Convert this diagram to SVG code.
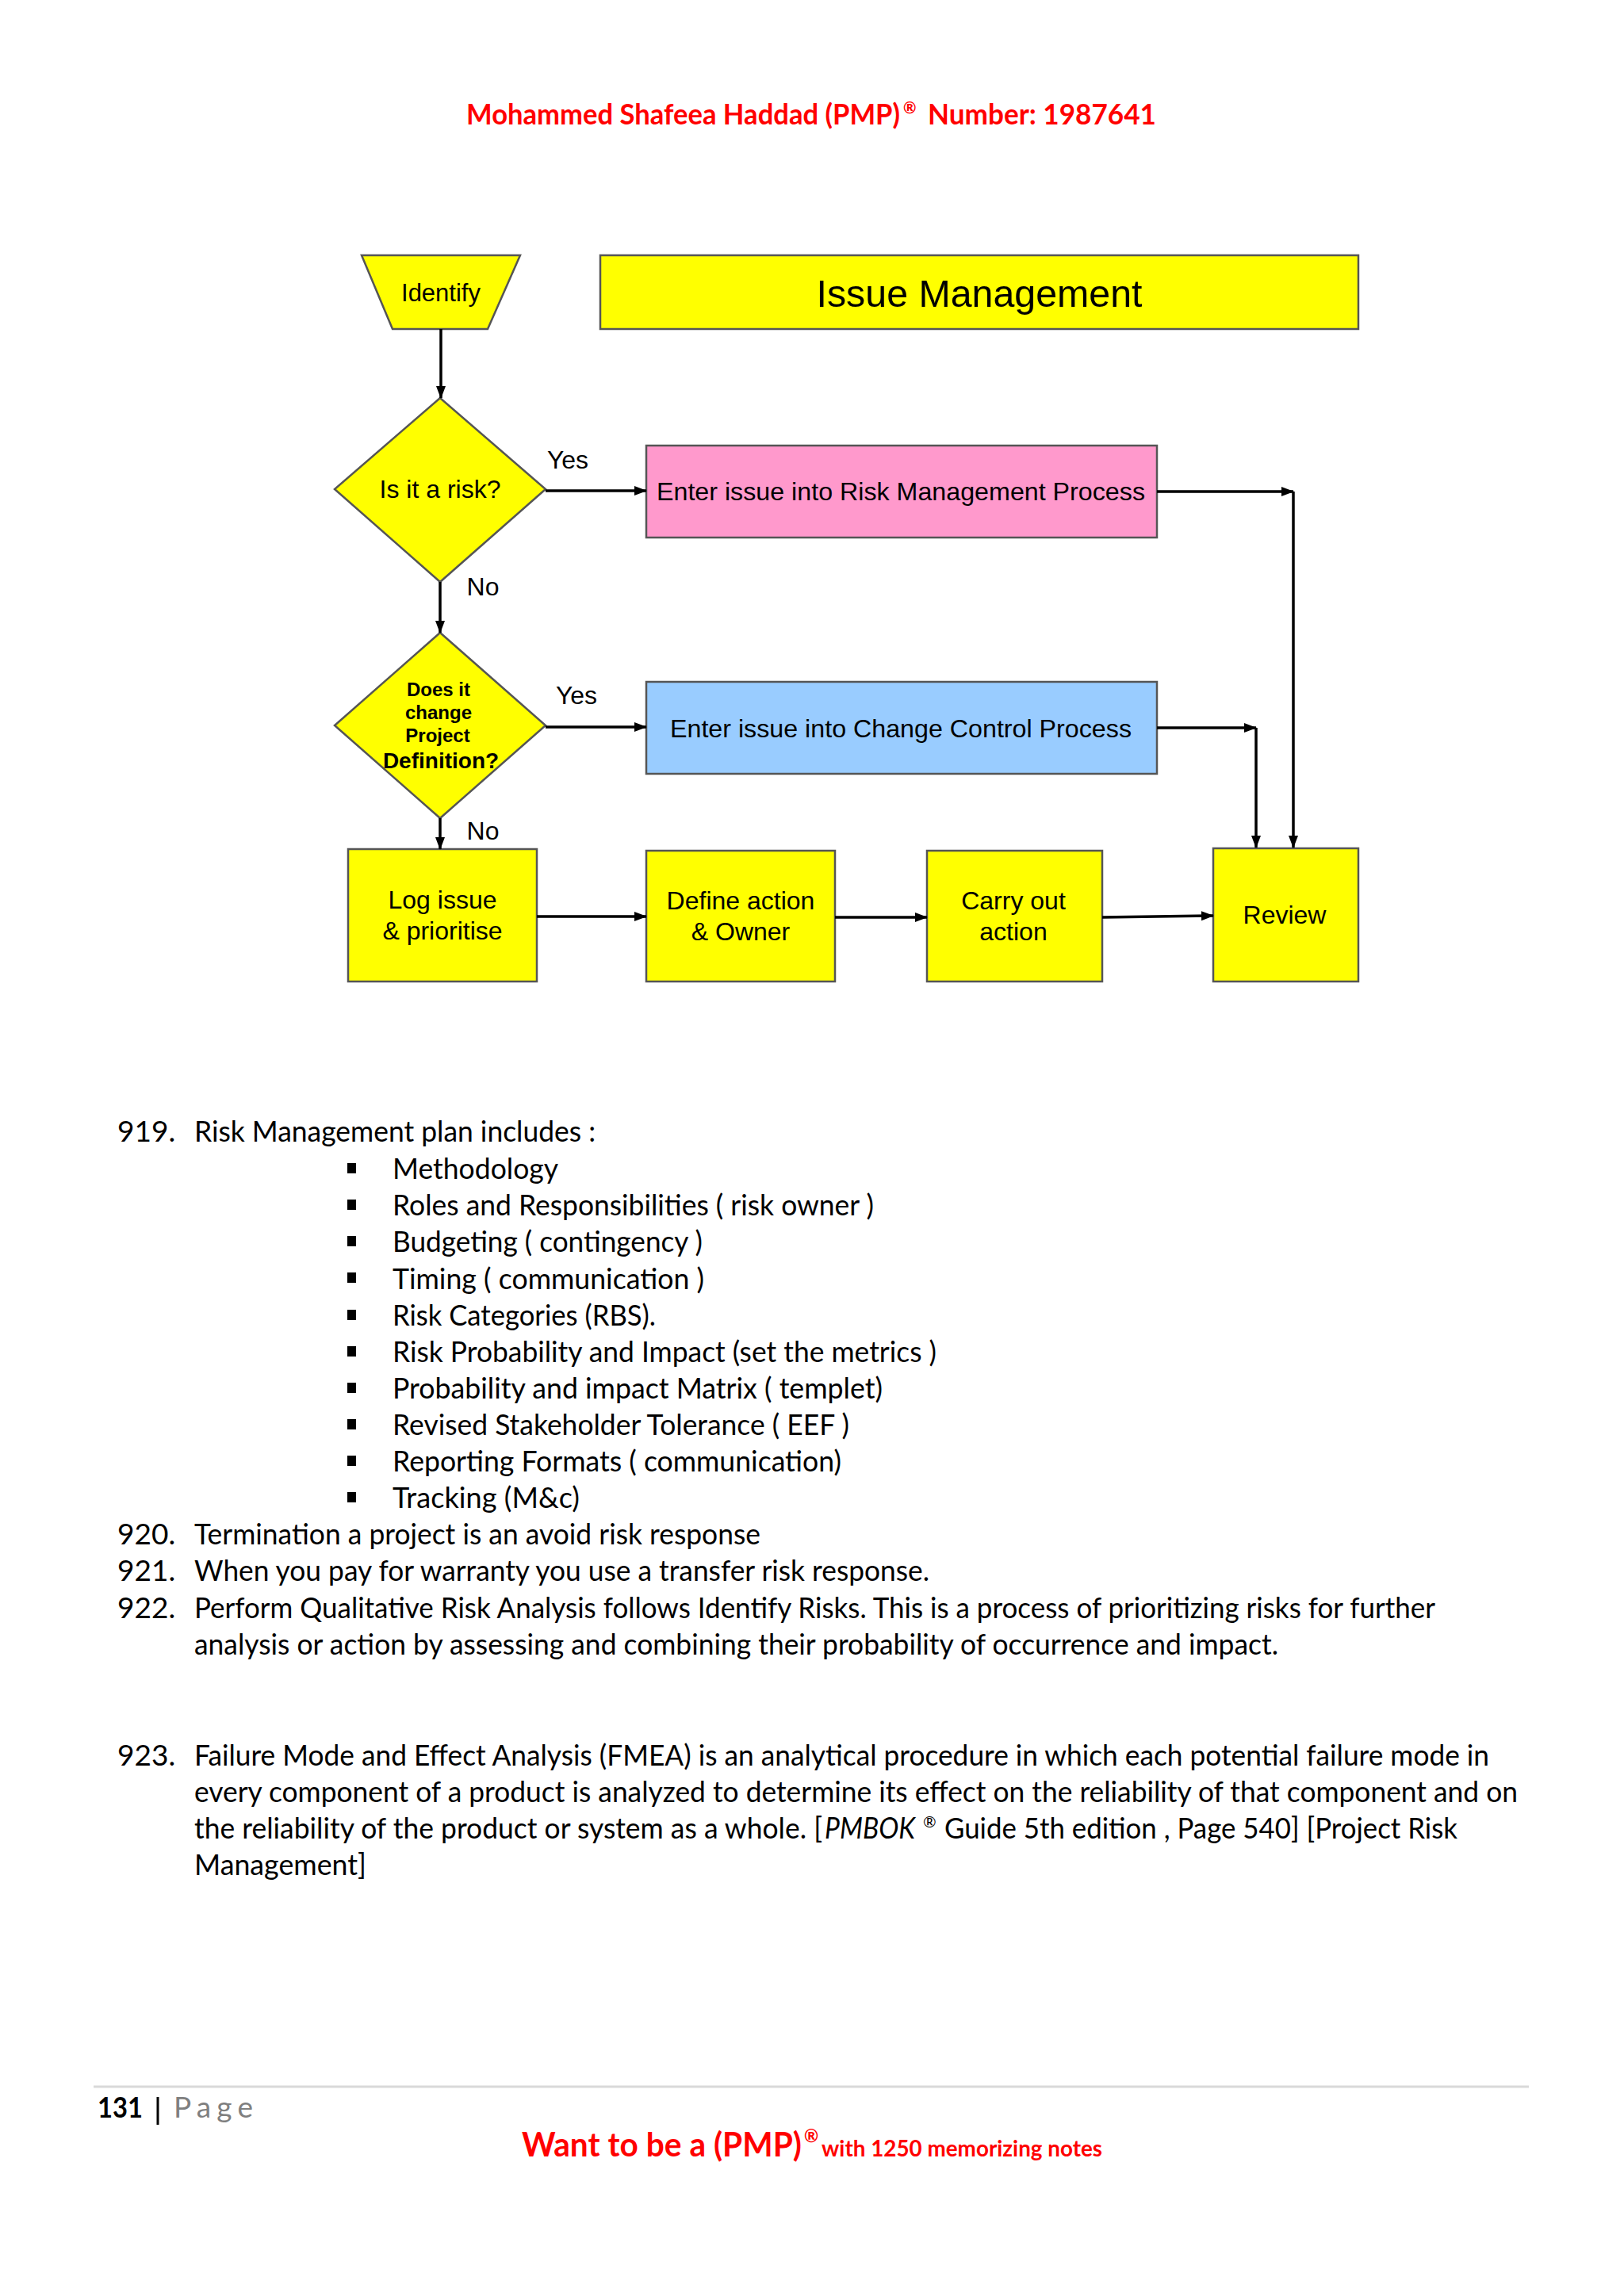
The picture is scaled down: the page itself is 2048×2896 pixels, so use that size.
<svg xmlns="http://www.w3.org/2000/svg" width="2048" height="2896" viewBox="0 0 2048 2896">
<defs>
<style>
.fc{font-family:"Liberation Sans",Arial,sans-serif;fill:#000;text-anchor:middle}
.box{stroke:#555;stroke-width:2.5}
.y{fill:#FFFF00}
.con{stroke:#000;fill:none;stroke-width:3.5}
.body{font-family:Lato,"Open Sans",sans-serif;font-size:37px;fill:#000}
.red{font-family:Lato,"Open Sans",sans-serif;font-weight:bold;fill:#FF0000}
</style>
<marker id="ah" markerUnits="userSpaceOnUse" markerWidth="16" markerHeight="14" refX="15" refY="7" orient="auto">
<path d="M0,1 L16,7 L0,13 Z" fill="#000"/>
</marker>
</defs>
<rect width="2048" height="2896" fill="#fff"/>

<g id="header">
<text class="red" x="588" y="157" font-size="37" textLength="547" lengthAdjust="spacingAndGlyphs">Mohammed Shafeea Haddad (PMP)</text>
<text class="red" x="1139" y="143" font-size="20">®</text>
<text class="red" x="1170" y="157" font-size="37" textLength="288" lengthAdjust="spacingAndGlyphs">Number: 1987641</text>
</g>

<g id="node-identify">
<polygon class="box y" points="456,322 656,322 615,415 495,415"/>
<text class="fc" x="556" y="380" font-size="31">Identify</text>
</g>
<g id="node-title">
<rect class="box y" x="757" y="322" width="956" height="93"/>
<text class="fc" x="1235" y="387" font-size="49" textLength="411" lengthAdjust="spacingAndGlyphs">Issue Management</text>
</g>
<g id="node-risk">
<polygon class="box y" points="555,502 688,617 555,734 422,617"/>
<text class="fc" x="555" y="628" font-size="32">Is it a risk?</text>
</g>
<g id="node-riskmgmt">
<rect class="box" fill="#FF99CC" x="815" y="562" width="644" height="116"/>
<text class="fc" x="1136" y="631" font-size="32" textLength="616" lengthAdjust="spacingAndGlyphs">Enter issue into Risk Management  Process</text>
</g>
<g id="node-change">
<polygon class="box y" points="555,798 688,915 555,1032 422,915"/>
<text class="fc" font-weight="bold" font-size="24"><tspan x="553" y="878">Does it</tspan><tspan x="553" y="907">change</tspan><tspan x="552" y="936">Project</tspan><tspan x="556" y="969" font-size="28">Definition?</tspan></text>
</g>
<g id="node-changectl">
<rect class="box" fill="#99CCFF" x="815" y="860" width="644" height="116"/>
<text class="fc" x="1136" y="930" font-size="32" textLength="582" lengthAdjust="spacingAndGlyphs">Enter issue into Change Control Process</text>
</g>
<g id="node-log">
<rect class="box y" x="439" y="1071" width="238" height="167"/>
<text class="fc" font-size="32"><tspan x="558" y="1146">Log issue</tspan><tspan x="558" y="1185">&amp; prioritise</tspan></text>
</g>
<g id="node-define">
<rect class="box y" x="815" y="1073" width="238" height="165"/>
<text class="fc" font-size="32"><tspan x="934" y="1147">Define action</tspan><tspan x="934" y="1186">&amp; Owner</tspan></text>
</g>
<g id="node-carry">
<rect class="box y" x="1169" y="1073" width="221" height="165"/>
<text class="fc" font-size="32"><tspan x="1278" y="1147">Carry out</tspan><tspan x="1278" y="1186">action</tspan></text>
</g>
<g id="node-review">
<rect class="box y" x="1530" y="1070" width="183" height="168"/>
<text class="fc" x="1620" y="1165" font-size="32">Review</text>
</g>

<g id="connectors">
<path class="con" d="M556,415 L556,502" marker-end="url(#ah)" stroke-width="3"/>
<path class="con" d="M688,619 L815,619" marker-end="url(#ah)"/>
<path class="con" d="M1459,620 L1631,620" marker-end="url(#ah)"/>
<path class="con" d="M1631,620 L1631,1069" marker-end="url(#ah)" stroke-width="3"/>
<path class="con" d="M555,734 L555,798" marker-end="url(#ah)" stroke-width="3"/>
<path class="con" d="M688,917 L815,917" marker-end="url(#ah)"/>
<path class="con" d="M1459,918 L1584,918" marker-end="url(#ah)"/>
<path class="con" d="M1584,918 L1584,1069" marker-end="url(#ah)" stroke-width="3"/>
<path class="con" d="M555,1032 L555,1071" marker-end="url(#ah)" stroke-width="3"/>
<path class="con" d="M677,1156 L815,1156" marker-end="url(#ah)"/>
<path class="con" d="M1053,1157 L1169,1157" marker-end="url(#ah)"/>
<path class="con" d="M1390,1157 L1530,1155" marker-end="url(#ah)"/>
<text class="fc" x="716" y="591" font-size="32">Yes</text>
<text class="fc" x="609" y="751" font-size="32">No</text>
<text class="fc" x="727" y="888" font-size="32">Yes</text>
<text class="fc" x="609" y="1059" font-size="32">No</text>
</g>

<g id="text-body" class="body">
<text x="148" y="1440">919.</text>
<text x="245" y="1440" textLength="506" lengthAdjust="spacingAndGlyphs">Risk Management plan includes :</text>
<g fill="#000">
<rect x="438" y="1467" width="11" height="13"/>
<rect x="438" y="1513" width="11" height="13"/>
<rect x="438" y="1559" width="11" height="13"/>
<rect x="438" y="1605" width="11" height="13"/>
<rect x="438" y="1652" width="11" height="13"/>
<rect x="438" y="1698" width="11" height="13"/>
<rect x="438" y="1744" width="11" height="13"/>
<rect x="438" y="1790" width="11" height="13"/>
<rect x="438" y="1836" width="11" height="13"/>
<rect x="438" y="1882" width="11" height="13"/>
</g>
<text x="495" y="1487" textLength="209" lengthAdjust="spacingAndGlyphs">Methodology</text>
<text x="495" y="1533" textLength="607" lengthAdjust="spacingAndGlyphs">Roles and Responsibilities ( risk owner )</text>
<text x="495" y="1579" textLength="391" lengthAdjust="spacingAndGlyphs">Budgeting ( contingency )</text>
<text x="495" y="1626" textLength="393" lengthAdjust="spacingAndGlyphs">Timing ( communication )</text>
<text x="495" y="1672" textLength="332" lengthAdjust="spacingAndGlyphs">Risk Categories (RBS).</text>
<text x="495" y="1718" textLength="686" lengthAdjust="spacingAndGlyphs">Risk Probability and Impact (set the metrics )</text>
<text x="495" y="1764" textLength="618" lengthAdjust="spacingAndGlyphs">Probability and impact Matrix ( templet)</text>
<text x="495" y="1810" textLength="576" lengthAdjust="spacingAndGlyphs">Revised Stakeholder Tolerance ( EEF )</text>
<text x="495" y="1856" textLength="566" lengthAdjust="spacingAndGlyphs">Reporting Formats ( communication)</text>
<text x="495" y="1902" textLength="236" lengthAdjust="spacingAndGlyphs">Tracking (M&amp;c)</text>
<text x="148" y="1948">920.</text>
<text x="245" y="1948" textLength="714" lengthAdjust="spacingAndGlyphs">Termination a project is an avoid risk response</text>
<text x="148" y="1994">921.</text>
<text x="245" y="1994" textLength="927" lengthAdjust="spacingAndGlyphs">When you pay for warranty you use a transfer risk response.</text>
<text x="148" y="2041">922.</text>
<text x="245" y="2041" textLength="1565" lengthAdjust="spacingAndGlyphs">Perform Qualitative Risk Analysis follows Identify Risks. This is a process of prioritizing risks for further</text>
<text x="245" y="2087" textLength="1367" lengthAdjust="spacingAndGlyphs">analysis or action by assessing and combining their probability of occurrence and impact.</text>
<text x="148" y="2227">923.</text>
<text x="245" y="2227" textLength="1633" lengthAdjust="spacingAndGlyphs">Failure Mode and Effect Analysis (FMEA) is an analytical procedure in which each potential failure mode in</text>
<text x="245" y="2273" textLength="1669" lengthAdjust="spacingAndGlyphs">every component of a product is analyzed to determine its effect on the reliability of that component and on</text>
<text x="245" y="2319" textLength="792" lengthAdjust="spacingAndGlyphs">the reliability of the product or system as a whole. [</text>
<text x="1040" y="2319" font-style="italic" textLength="114" lengthAdjust="spacingAndGlyphs">PMBOK</text>
<text x="1164" y="2305" font-size="20">®</text>
<text x="1191" y="2319" textLength="647" lengthAdjust="spacingAndGlyphs">Guide 5th edition , Page 540] [Project Risk</text>
<text x="245" y="2365" textLength="217" lengthAdjust="spacingAndGlyphs">Management]</text>
</g>

<g id="footer">
<line x1="118" y1="2632" x2="1928" y2="2632" stroke="#d9d9d9" stroke-width="3"/>
<text x="123" y="2671" font-family="Lato,'Open Sans',sans-serif" font-size="37" font-weight="bold" fill="#000" textLength="57" lengthAdjust="spacingAndGlyphs">131</text>
<line x1="199" y1="2645" x2="199" y2="2680" stroke="#000" stroke-width="3"/>
<text x="219" y="2671" font-family="Lato,'Open Sans',sans-serif" font-size="37" fill="#7f7f7f" textLength="100" lengthAdjust="spacing">Page</text>
<text class="red" x="658" y="2720" font-size="42" textLength="353" lengthAdjust="spacingAndGlyphs">Want to be a (PMP)</text>
<text class="red" x="1014" y="2702" font-size="22">®</text>
<text class="red" x="1036" y="2720" font-size="28" textLength="354" lengthAdjust="spacingAndGlyphs">with 1250 memorizing notes</text>
</g>
</svg>
